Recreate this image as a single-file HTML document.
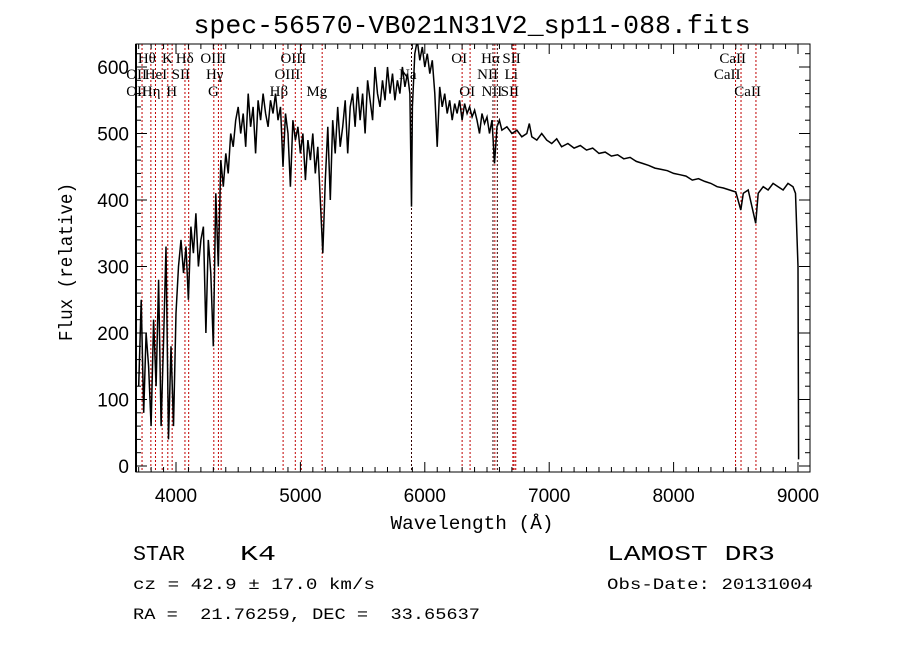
<!DOCTYPE html>
<html><head><meta charset="utf-8"><style>
html,body{margin:0;padding:0;background:#fff;}
svg{display:block;}
text{font-family:"Liberation Sans",sans-serif;fill:#000;}
.mono{font-family:"Liberation Mono",monospace;}
.ser{font-family:"Liberation Serif",serif;}
</style></head><body>
<svg id="c" width="900" height="649" viewBox="0 0 900 649" xmlns="http://www.w3.org/2000/svg">
<text class="mono" x="472" y="33" font-size="26" text-anchor="middle" textLength="557" lengthAdjust="spacingAndGlyphs">spec-56570-VB021N31V2_sp11-088.fits</text>
<text class="mono" transform="translate(72,262) rotate(-90)" font-size="19" text-anchor="middle" textLength="158" lengthAdjust="spacingAndGlyphs">Flux (relative)</text>
<text class="mono" x="472" y="529" font-size="19" text-anchor="middle" textLength="163" lengthAdjust="spacingAndGlyphs">Wavelength (Å)</text>
<text class="mono" x="133" y="560" font-size="21" textLength="52" lengthAdjust="spacingAndGlyphs">STAR</text>
<text class="mono" x="240" y="560" font-size="21" textLength="36" lengthAdjust="spacingAndGlyphs">K4</text>
<text class="mono" x="607" y="560" font-size="21" textLength="168" lengthAdjust="spacingAndGlyphs">LAMOST DR3</text>
<text class="mono" x="133" y="589" font-size="16" textLength="242" lengthAdjust="spacingAndGlyphs">cz = 42.9 ± 17.0 km/s</text>
<text class="mono" x="607" y="589" font-size="16" textLength="206" lengthAdjust="spacingAndGlyphs">Obs-Date: 20131004</text>
<text class="mono" x="133" y="619" font-size="16" textLength="347" lengthAdjust="spacingAndGlyphs" xml:space="preserve">RA =  21.76259, DEC =  33.65637</text>
</svg>
<script>
const waves=[3700,3720,3740,3760,3780,3800,3820,3840,3860,3880,3900,3920,3940,3960,3980,4000,4020,4040,4060,4080,4100,4120,4140,4160,4180,4200,4220,4240,4260,4280,4300,4320,4340,4360,4380,4400,4420,4440,4460,4480,4500,4520,4540,4560,4580,4600,4620,4640,4660,4680,4700,4720,4740,4760,4780,4800,4820,4840,4860,4880,4900,4920,4940,4960,4980,5000,5020,5040,5060,5080,5100,5120,5140,5160,5180,5200,5220,5240,5260,5280,5300,5320,5340,5360,5380,5400,5420,5440,5460,5480,5500,5520,5540,5560,5580,5600,5620,5640,5660,5680,5700,5720,5740,5760,5780,5800,5820,5840,5860,5880,5893,5900,5920,5940,5960,5980,6000,6020,6040,6060,6080,6100,6120,6140,6160,6180,6200,6220,6240,6260,6280,6300,6320,6340,6360,6380,6400,6420,6440,6460,6480,6500,6520,6540,6560,6580,6600,6620,6660,6700,6740,6780,6820,6840,6860,6900,6940,6980,7020,7060,7100,7150,7200,7250,7300,7350,7400,7450,7500,7550,7600,7650,7700,7750,7800,7850,7900,7950,8000,8050,8100,8150,8200,8250,8300,8350,8400,8450,8500,8540,8560,8600,8660,8680,8720,8760,8800,8840,8880,8920,8960,8980,9000,9005];
const flux=[120,250,80,200,150,60,220,120,280,60,190,330,40,180,60,230,300,340,290,330,250,360,320,380,300,340,360,200,340,290,180,410,300,460,420,470,440,500,480,520,540,500,530,480,560,510,540,470,550,520,560,530,510,550,530,560,520,540,450,530,500,420,520,490,510,470,500,430,490,460,500,440,480,400,320,430,510,400,520,470,540,480,510,550,470,540,560,510,570,520,560,500,580,550,520,600,560,540,580,550,600,560,590,550,580,560,600,570,590,560,390,540,620,640,610,630,600,620,590,610,560,480,570,540,560,530,550,520,545,530,550,520,545,530,540,525,535,520,500,530,515,525,500,520,455,510,520,505,510,500,505,495,500,515,495,490,500,490,485,492,480,485,478,482,475,478,470,472,466,468,462,464,458,455,452,448,446,444,440,438,436,430,432,428,425,420,418,415,412,385,410,415,365,410,420,415,425,420,415,425,420,410,300,10];
const lineWaves=[3727,3798,3835,3889,3934,3969,4072,4102,4304,4341,4363,4861,4959,5007,5175,5893,6300,6364,6548,6563,6583,6708,6717,6731,8498,8542,8662];
const labelText=["Hθ","K","Hδ","OIII","OIII","OI","Hα","SII","CaII","OII","HeI","SII","Hγ","OIII","Na","NII","Li","CaII","OII","Hη","H","G","Hβ","Mg","OI","NII","SII","CaII"];
const labelWave=[3798,3934,4102,4363,5007,6300,6563,6731,8542,3727,3889,4072,4341,4959,5893,6548,6708,8498,3727,3835,3969,4304,4861,5175,6364,6583,6717,8662];
const labelRow=[0,0,0,0,0,0,0,0,0,1,1,1,1,1,1,1,1,1,2,2,2,2,2,2,2,2,2,2];
const xTicks=[4000,5000,6000,7000,8000,9000];
const yTicks=[0,100,200,300,400,500,600];

const L=136,R=810,T=44,B=472;
const X=w=>176+(w-4000)*0.1244;
const Y=f=>466-f*0.665;
const svg=document.getElementById('c');
const NS='http://www.w3.org/2000/svg';
function mk(t,a,p){const e=document.createElementNS(NS,t);for(const k in a)e.setAttribute(k,a[k]);(p||svg).appendChild(e);return e;}
const clip=mk('clipPath',{id:'pc'});mk('rect',{x:L,y:T,width:R-L,height:B-T},clip);
// lines
lineWaves.forEach(w=>{const dark=(w===5893||w===6548||w===6583);
const l=mk('line',{x1:X(w),x2:X(w),y1:T,y2:B,stroke:dark?'#300':'#c00000','stroke-width':1,'stroke-dasharray':'2,2'});

});
// labels
const rowY=[63,79,96];
labelText.forEach((t,i)=>{const e=mk('text',{x:X(labelWave[i])+5,y:rowY[labelRow[i]],'font-size':15,'text-anchor':'end','class':'ser'});e.textContent=t;

});
// spectrum
let d='';waves.forEach((w,i)=>{d+=(i?'L':'M')+X(w).toFixed(1)+','+Y(flux[i]).toFixed(1);});
const sp=mk('path',{d:d,fill:'none',stroke:'#000','stroke-width':1.5,'clip-path':'url(#pc)'});


// frame
const fr=mk('rect',{x:L,y:T,width:R-L,height:B-T,fill:'none',stroke:'#000','stroke-width':1});


mk('line',{x1:L,x2:L,y1:T,y2:B,stroke:'#000','stroke-width':2});
// x ticks
for(let w=3700;w<=9000;w+=100){const x=X(w);const maj=w%1000===0;const len=maj?10:5;
mk('line',{x1:x,x2:x,y1:B,y2:B-len,stroke:'#000'});mk('line',{x1:x,x2:x,y1:T,y2:T+len,stroke:'#000'});}
xTicks.forEach(w=>{const e=mk('text',{x:X(w),y:502,'font-size':19,'text-anchor':'middle'});e.textContent=w;

});
// y ticks
for(let f=0;f<=620;f+=20){const y=Y(f);const maj=f%100===0;const len=maj?11:5;
mk('line',{x1:L,x2:L+len,y1:y,y2:y,stroke:'#000'});mk('line',{x1:R,x2:R-len,y1:y,y2:y,stroke:'#000'});}
yTicks.forEach(f=>{const e=mk('text',{x:129,y:Y(f)+7,'font-size':19,'text-anchor':'end'});e.textContent=f;

});
</script>
</body></html>
